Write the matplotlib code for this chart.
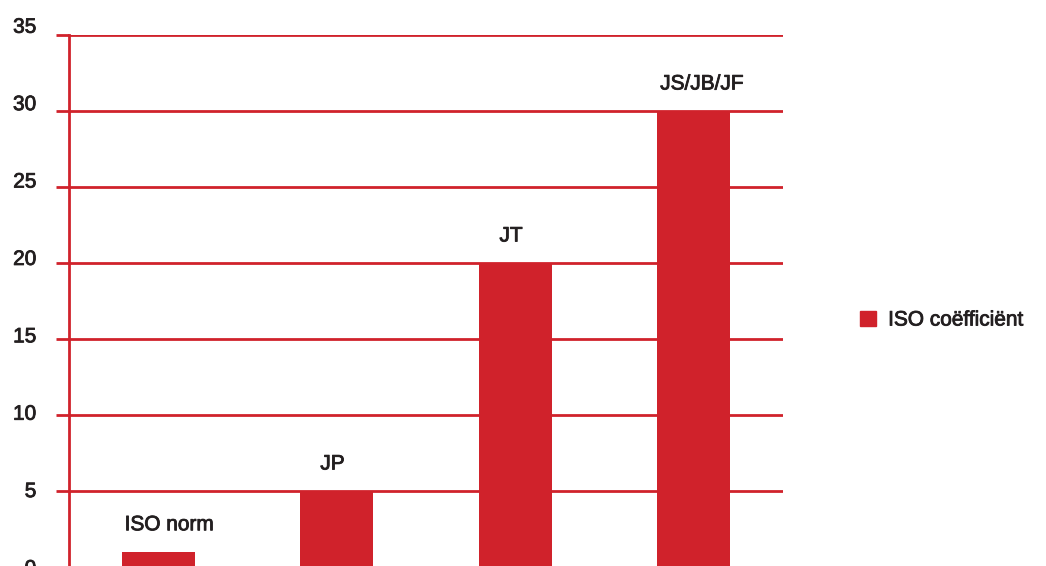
import matplotlib
matplotlib.use("Agg")
import matplotlib.pyplot as plt
import matplotlib.patheffects as pe
import matplotlib.transforms as mtransforms
from matplotlib.patches import Patch

categories = ["ISO norm", "JP", "JT", "JS/JB/JF"]
values = [1, 5, 20, 30]
yticks = [0, 5, 10, 15, 20, 25, 30, 35]
legend_label = "ISO coëfficiënt"

red = "#d0222b"
txt = "#231f20"
plt.rcParams["font.family"] = ["Liberation Sans", "DejaVu Sans"]
fs = 15
# slight stroke to imitate a medium weight
medium = [pe.withStroke(linewidth=0.6, foreground=txt)]

fig = plt.figure(figsize=(10.46, 5.66), dpi=100)
# axes from x=69 to 783 px, y=35 to 567 px
ax = fig.add_axes([69 / 1046, -1 / 566, 714 / 1046, 532 / 566])

x = range(len(categories))
bars = ax.bar(x, values, width=0.41, color=red, zorder=3)
# the labels in the original are not quite centred on the bars
label_dx = [8, -3, -3, 6]
for xi, v, lab, dx in zip(x, values, categories, label_dx):
    ax.annotate(lab, (xi, v), xytext=(dx, 15.5), textcoords="offset points",
                ha="center", va="baseline", fontsize=fs, color=txt,
                path_effects=medium)

ax.set_xlim(-0.5, 3.5)
ax.set_ylim(0, 35)
ax.set_yticks(yticks)
ax.set_yticklabels([str(t) for t in yticks], fontsize=fs, color=txt)
ax.tick_params(axis="y", length=9.5, width=2, color=red, pad=14)
ax.tick_params(axis="x", bottom=False, labelbottom=False)
# tick labels in the original drift upward a little from their gridlines
for t, tick in zip(yticks, ax.yaxis.get_major_ticks()):
    lbl = tick.label1
    lbl.set_path_effects(medium)
    lbl.set_transform(lbl.get_transform() + mtransforms.ScaledTranslation(
        0, 0.2 * t / 72, fig.dpi_scale_trans))
ax.yaxis.grid(True, color=red, linewidth=2)
ax.set_axisbelow(True)
for s in ["top", "right", "bottom"]:
    ax.spines[s].set_visible(False)
ax.spines["left"].set_color(red)
ax.spines["left"].set_linewidth(2)

handle = Patch(color=red, label=legend_label)
leg = fig.legend(handles=[handle], loc="center left", bbox_to_anchor=(860 / 1046, 1 - 320 / 566),
                 frameon=False, borderpad=0, borderaxespad=0, handlelength=0.75,
                 handleheight=0.75, handletextpad=0.6, prop={"size": fs}, labelcolor=txt)
for t in leg.get_texts():
    t.set_path_effects(medium)

fig.savefig("out.png", dpi=100)
